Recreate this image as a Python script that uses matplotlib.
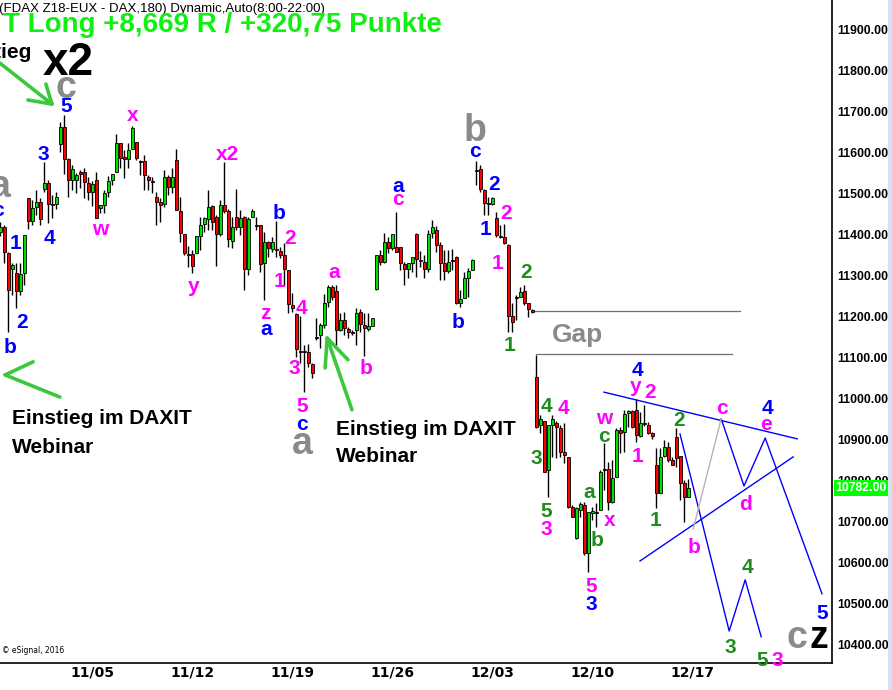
import matplotlib
matplotlib.use('Agg')
import matplotlib.pyplot as plt
import matplotlib.transforms as mtransforms
from matplotlib.patches import Rectangle

# FDAX Z18 180-min bars (bar index 0 = left edge)
opens = [
    11407, 11419, 11356, 11317, 11307, 11263, 11307, 11490, 11434, 11468,
    11480, 11512, 11526, 11475, 11475, 11622, 11663, 11585, 11534, 11534,
    11553, 11553, 11526, 11505, 11534, 11465, 11473, 11505, 11534, 11553,
    11624, 11590, 11585, 11609, 11627, 11580, 11580, 11541, 11531, 11492,
    11480, 11475, 11541, 11517, 11583, 11458, 11402, 11353, 11353, 11356,
    11397, 11426, 11439, 11470, 11444, 11402, 11473, 11458, 11385, 11444,
    11419, 11444, 11317, 11444, 11424, 11424, 11331, 11383, 11365, 11365,
    11361, 11351, 11314, 11229, 11207, 11117, 11117, 11114, 11085, 11151,
    11156, 11180, 11236, 11273, 11263, 11168, 11192, 11170, 11163, 11168,
    11212, 11180, 11170, 11178, 11268, 11351, 11334, 11383, 11368, 11370,
    11370, 11329, 11317, 11331, 11402, 11339, 11334, 11317, 11404, 11412,
    11375, 11331, 11312, 11339, 11346, 11234, 11246, 11295, 11314, 11558,
    11561, 11510, 11478, 11475, 11441, 11397, 11395, 11375, 11202, 11248,
    11248, 11263, 11234, 11217, 11053, 10936, 10946, 10826, 10936, 10941,
    10929, 10870, 10858, 10736, 10660, 10729, 10741, 10624, 10721, 10724,
    10729, 10829, 10829, 10748, 10809, 10924, 10919, 10965, 10970, 10973,
    10909, 10941, 10936, 10916, 10838, 10770, 10860, 10882, 10851, 10907,
    10860, 10795, 10760]
highs = [
    11431, 11424, 11358, 11331, 11331, 11331, 11400, 11490, 11485, 11510,
    11490, 11578, 11534, 11497, 11505, 11675, 11692, 11588, 11570, 11551,
    11558, 11563, 11541, 11531, 11553, 11473, 11510, 11544, 11548, 11646,
    11624, 11607, 11624, 11666, 11627, 11583, 11595, 11546, 11541, 11505,
    11490, 11558, 11546, 11563, 11609, 11492, 11402, 11373, 11363, 11397,
    11444, 11444, 11510, 11473, 11448, 11485, 11578, 11463, 11444, 11512,
    11461, 11446, 11444, 11463, 11444, 11424, 11407, 11385, 11395, 11434,
    11370, 11380, 11314, 11258, 11209, 11202, 11131, 11134, 11087, 11197,
    11185, 11256, 11278, 11278, 11278, 11209, 11212, 11175, 11168, 11222,
    11219, 11209, 11209, 11197, 11351, 11363, 11404, 11395, 11402, 11456,
    11370, 11334, 11331, 11346, 11404, 11361, 11351, 11412, 11436, 11422,
    11383, 11363, 11363, 11365, 11348, 11265, 11309, 11319, 11341, 11580,
    11570, 11512, 11492, 11492, 11456, 11424, 11426, 11378, 11234, 11253,
    11273, 11278, 11234, 11219, 11107, 10960, 10946, 10936, 10960, 10946,
    10936, 10941, 10858, 10741, 10736, 10748, 10748, 10724, 10736, 10746,
    10826, 10892, 10846, 10851, 10929, 10931, 10973, 10973, 10973, 11000,
    10968, 10985, 10943, 10919, 10880, 10880, 10899, 10895, 10858, 10929,
    10860, 10802, 10804]
lows = [
    11397, 11331, 11163, 11253, 11222, 11253, 11278, 11414, 11424, 11448,
    11424, 11505, 11429, 11441, 11463, 11602, 11548, 11492, 11509, 11502,
    11514, 11490, 11485, 11470, 11441, 11453, 11453, 11492, 11522, 11553,
    11563, 11539, 11563, 11609, 11583, 11546, 11510, 11510, 11502, 11424,
    11431, 11468, 11497, 11502, 11461, 11383, 11351, 11322, 11307, 11356,
    11363, 11407, 11412, 11412, 11324, 11397, 11453, 11370, 11368, 11412,
    11400, 11265, 11302, 11444, 11412, 11309, 11241, 11346, 11358, 11346,
    11343, 11278, 11209, 11212, 11102, 11087, 11017, 11078, 11051, 11144,
    11124, 11173, 11224, 11241, 11131, 11165, 11156, 11148, 11156, 11131,
    11163, 11104, 11165, 11178, 11265, 11326, 11331, 11356, 11363, 11358,
    11314, 11278, 11295, 11309, 11297, 11322, 11295, 11309, 11392, 11358,
    11290, 11290, 11307, 11314, 11231, 11224, 11246, 11248, 11314, 11522,
    11505, 11448, 11448, 11473, 11395, 11392, 11378, 11163, 11163, 11192,
    11248, 11229, 11200, 11209, 10929, 10917, 10821, 10760, 10858, 10856,
    10858, 10843, 10733, 10712, 10658, 10712, 10619, 10577, 10704, 10687,
    10729, 10777, 10729, 10746, 10809, 10868, 10870, 10931, 10929, 10894,
    10907, 10934, 10914, 10902, 10733, 10770, 10858, 10846, 10838, 10833,
    10753, 10699, 10760]
closes = [
    11419, 11358, 11265, 11326, 11263, 11304, 11400, 11434, 11465, 11480,
    11439, 11526, 11475, 11473, 11492, 11663, 11585, 11534, 11561, 11546,
    11548, 11529, 11505, 11524, 11441, 11473, 11502, 11531, 11548, 11624,
    11588, 11585, 11607, 11661, 11588, 11578, 11546, 11534, 11529, 11480,
    11473, 11541, 11517, 11541, 11461, 11404, 11356, 11351, 11324, 11397,
    11424, 11441, 11468, 11431, 11402, 11473, 11458, 11390, 11419, 11419,
    11441, 11317, 11439, 11458, 11422, 11329, 11383, 11368, 11383, 11363,
    11351, 11317, 11231, 11222, 11121, 11114, 11114, 11087, 11063, 11148,
    11180, 11234, 11273, 11248, 11168, 11192, 11173, 11163, 11160, 11209,
    11182, 11173, 11178, 11197, 11351, 11334, 11383, 11368, 11402, 11358,
    11331, 11317, 11331, 11346, 11341, 11336, 11317, 11402, 11419, 11375,
    11331, 11312, 11334, 11336, 11234, 11243, 11295, 11312, 11339, 11556,
    11512, 11478, 11475, 11490, 11400, 11395, 11380, 11202, 11187, 11246,
    11260, 11234, 11219, 11212, 10931, 10951, 10821, 10936, 10951, 10931,
    10870, 10863, 10736, 10712, 10733, 10743, 10624, 10724, 10726, 10721,
    10821, 10826, 10748, 10807, 10924, 10916, 10963, 10970, 10931, 10912,
    10941, 10938, 10916, 10909, 10770, 10858, 10882, 10851, 10838, 10856,
    10795, 10760, 10782]

week_ticks = [23, 48, 73, 98, 123, 148, 173]
week_labels = ['11/05', '11/12', '11/19', '11/26', '12/03', '12/10', '12/17']
price_ticks = list(range(10400, 12000, 100))
last_price = 10782

# gap lines (bar from, bar to, price)
gap_top = (133, 185, 11214)
gap_bottom = (134, 183, 11109)

# triangle and projected wave paths (bar, price)
tri_upper_x, tri_upper_y = [150.9, 199.2], [11016, 10902]
tri_lower_x, tri_lower_y = [159.9, 198.2], [10604, 10858]
path_a_x, path_a_y = [169.9, 182.2, 186.2, 190.2], [10914, 10433, 10558, 10419]
path_b_x, path_b_y = [180.2, 185.9, 191.2, 205.4], [10951, 10787, 10904, 10524]
gray_x, gray_y = [173.2, 180.2], [10682, 10951]

# hand drawn green arrows: tip first, then stroke ends
arrows = [
    [(12.9, 11719), (-0.1, 11819), (6.9, 11729), (11.4, 11768)],
    [(1.2, 11058), (8.2, 11090), (14.9, 11004)],
    [(81.7, 11148), (87.9, 10973), (81.2, 11075), (86.9, 11095)],
]

B, M, G, GR, K = '#0000ff', '#ff00ff', '#1e8c1e', '#8a8a8a', 'black'
# wave count labels: text, bar, price, colour, size
labels = [
    ('5', 16.4, 11719, B, 15), ('c', 16.4, 11768, GR, 27), ('x2', 17.0, 11831, K, 33),
    ('a', 0.0, 11527, GR, 27), ('c', -0.5, 11465, B, 15),
    ('1', 3.7, 11385, B, 15), ('2', 5.4, 11192, B, 15), ('b', 2.4, 11129, B, 15),
    ('3', 10.7, 11602, B, 15), ('4', 12.4, 11397, B, 15),
    ('w', 24.9, 11419, M, 15), ('x', 33.2, 11697, M, 15), ('x2', 56.9, 11602, M, 15),
    ('y', 48.2, 11280, M, 15), ('b', 69.7, 11458, B, 15), ('2', 72.4, 11395, M, 15),
    ('1', 69.7, 11290, M, 15), ('z', 66.2, 11212, M, 15), ('a', 66.4, 11175, B, 15),
    ('4', 75.4, 11224, M, 15), ('3', 73.4, 11080, M, 15), ('5', 75.4, 10985, M, 15),
    ('c', 75.4, 10941, B, 15), ('a', 75.4, 10899, GR, 27),
    ('a', 83.4, 11312, M, 15), ('b', 91.4, 11078, M, 15),
    ('a', 99.4, 11522, B, 15), ('c', 99.4, 11490, M, 15), ('b', 114.4, 11190, B, 15),
    ('b', 118.7, 11663, GR, 27), ('c', 118.7, 11609, B, 15), ('2', 123.4, 11529, B, 15),
    ('1', 121.4, 11419, B, 15), ('2', 126.4, 11456, M, 15), ('1', 124.2, 11334, M, 15),
    ('2', 131.4, 11312, G, 15), ('1', 127.4, 11136, G, 15), ('Gap', 144.4, 11163, GR, 19),
    ('4', 136.4, 10987, G, 15), ('4', 140.7, 10982, M, 15), ('3', 133.9, 10858, G, 15),
    ('5', 136.4, 10731, G, 15), ('3', 136.4, 10685, M, 15),
    ('a', 147.2, 10777, G, 15), ('b', 149.2, 10658, G, 15), ('5', 147.7, 10546, M, 15),
    ('3', 147.7, 10502, B, 15), ('w', 150.9, 10956, M, 15), ('c', 150.9, 10914, G, 15),
    ('x', 152.4, 10707, M, 15), ('4', 159.2, 11075, B, 15), ('y', 158.9, 11034, M, 15),
    ('2', 162.4, 11021, M, 15), ('1', 159.4, 10863, M, 15), ('2', 169.7, 10951, G, 15),
    ('1', 163.7, 10707, G, 15), ('b', 173.4, 10643, M, 15), ('c', 180.4, 10980, M, 15),
    ('4', 191.7, 10980, B, 15), ('e', 191.4, 10941, M, 15), ('d', 186.4, 10748, M, 15),
    ('4', 186.7, 10592, G, 15), ('3', 182.4, 10399, G, 15), ('5', 190.4, 10365, G, 15),
    ('3', 194.2, 10365, M, 15), ('5', 205.4, 10482, B, 15),
    ('c', 199.2, 10426, GR, 27), ('z', 204.7, 10426, K, 27),
]

fig = plt.figure(figsize=(8.92, 6.9), dpi=100)
ax = fig.add_axes([0, 27 / 690, 832 / 892, 663 / 690])
ax.set_xlim(-0.075, 207.9)
ax.set_ylim(10355, 11973)

# points per pixel on the price scale, used to drop text onto its glyph centre
pts_per_px = (11973 - 10355) / 663.0

x = list(range(len(opens)))
ax.vlines(x, lows, highs, color='black', linewidth=1, zorder=2)
body_col = ['#00e000' if c >= o else '#ff0000' for o, c in zip(opens, closes)]
heights = [c - o if abs(c - o) > 1 else 2 for o, c in zip(opens, closes)]
ax.bar(x, heights, bottom=opens, width=0.75, color=body_col,
       edgecolor='black', linewidth=0.6, zorder=3)

for x0, x1, p in (gap_top, gap_bottom):
    ax.plot([x0, x1], [p, p], color='#707070', linewidth=0.9, zorder=1)

for xs, ys in [(tri_upper_x, tri_upper_y), (tri_lower_x, tri_lower_y),
               (path_a_x, path_a_y), (path_b_x, path_b_y)]:
    ax.plot(xs, ys, color='#0000ff', linewidth=1, zorder=4)
ax.plot(gray_x, gray_y, color='#b4b4b4', linewidth=1, zorder=4)

for arr in arrows:
    tip = arr[0]
    for end in arr[1:]:
        ax.plot([tip[0], end[0]], [tip[1], end[1]], color='#3cc83c',
                linewidth=2.6, solid_capstyle='round', zorder=5, clip_on=False)


def drop(sz):
    # half of the descender room, so the glyph (not the box) sits on the spot
    return 0.1 * sz * 100 / 72 * pts_per_px


for txt, bx, py, col, sz in labels:
    ax.text(bx, py - drop(sz), txt, color=col, fontsize=sz, fontweight='bold',
            family='Liberation Sans', ha='center', va='center', zorder=6)

ax.text(7.9, 11851 - drop(15), 'Einstieg', fontsize=15, fontweight='bold',
        family='Liberation Sans', ha='right', va='center', zorder=6)
for bx, p1, p2 in [(2.9, 10956, 10887), (83.9, 10931, 10865)]:
    ax.text(bx, p1 - drop(15), 'Einstieg im DAXIT', fontsize=15, fontweight='bold',
            family='Liberation Sans', ha='left', va='center', zorder=6)
    ax.text(bx, p2 - drop(15), 'Webinar', fontsize=15, fontweight='bold',
            family='Liberation Sans', ha='left', va='center', zorder=6)

ax.text(0.002, 0.012, '\u00a9 eSignal, 2016', transform=ax.transAxes, fontsize=5.5,
        family=['Liberation Sans Narrow', 'DejaVu Sans'], va='bottom')

# axes styling
for side in ['top', 'left']:
    ax.spines[side].set_visible(False)
ax.spines['right'].set_linewidth(1.2)
ax.spines['bottom'].set_linewidth(1.2)
ax.yaxis.tick_right()
ax.set_yticks(price_ticks)
ax.set_yticklabels([f'{p}.00' for p in price_ticks])
ax.tick_params(axis='y', length=0, pad=4)
for lab in ax.get_yticklabels():
    lab.set_fontsize(8.8)
    lab.set_fontweight('bold')
    lab.set_family('Liberation Sans')
ax.set_xticks(week_ticks)
ax.set_xticklabels(week_labels)
ax.tick_params(axis='x', length=0, pad=2)
for lab in ax.get_xticklabels():
    lab.set_fontsize(10)
    lab.set_fontweight('bold')
    lab.set_family(['Liberation Sans Narrow', 'DejaVu Sans'])

trans = mtransforms.blended_transform_factory(ax.transAxes, ax.transData)
ax.text(1.004, last_price, f'{last_price}.00', transform=trans, color='white',
        fontsize=8.8, fontweight='bold', family='Liberation Sans', va='center',
        ha='left', zorder=10, clip_on=False,
        bbox=dict(facecolor='#00ff00', edgecolor='none', pad=1.2))

fig.patches.append(Rectangle((888 / 892, 0), 4 / 892, 1, transform=fig.transFigure,
                             facecolor='#d6e3f5', edgecolor='none'))

fig.text(-1 / 892, 1 - 9 / 690, '(FDAX Z18-EUX - DAX,180) Dynamic,Auto(8:00-22:00)',
         fontsize=9.5, family='Liberation Sans', va='center', ha='left')
fig.text(3 / 892, 1 - 25 / 690, 'T Long +8,669 R / +320,75 Punkte', fontsize=20,
         fontweight='bold', family='Liberation Sans', color='#10f010',
         va='center', ha='left')

fig.savefig('out.png', dpi=100)
